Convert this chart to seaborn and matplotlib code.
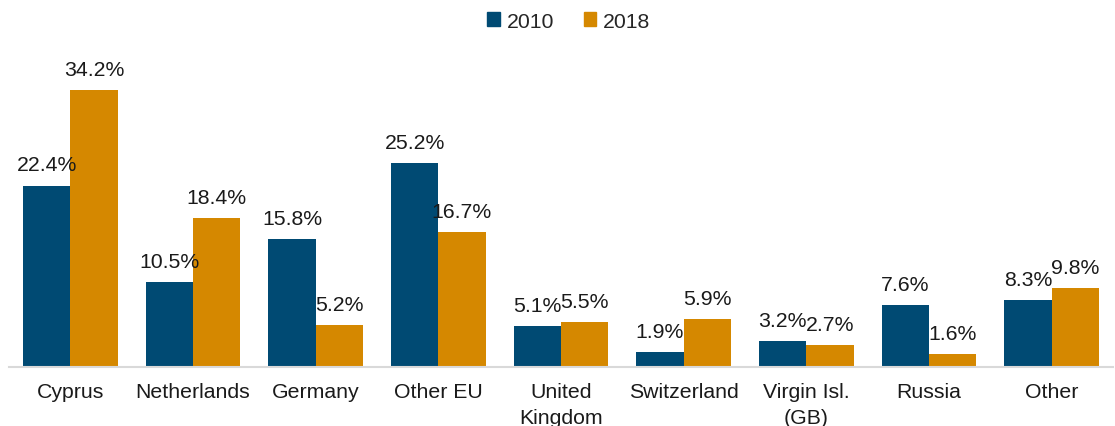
import pandas as pd
import seaborn as sns
import matplotlib.pyplot as plt

countries = ["Cyprus", "Netherlands", "Germany", "Other EU", "United\nKingdom",
             "Switzerland", "Virgin Isl.\n(GB)", "Russia", "Other"]
share_2010 = [22.4, 10.5, 15.8, 25.2, 5.1, 1.9, 3.2, 7.6, 8.3]
share_2018 = [34.2, 18.4, 5.2, 16.7, 5.5, 5.9, 2.7, 1.6, 9.8]

df = pd.DataFrame({
    "country": countries * 2,
    "year": ["2010"] * 9 + ["2018"] * 9,
    "share": share_2010 + share_2018,
})

sns.set_style("white")
plt.rcParams["font.family"] = ["Liberation Sans", "DejaVu Sans"]

fig = plt.figure(figsize=(11.15, 4.27), dpi=100)
ax = fig.add_axes([9 / 1115, 59 / 427, 1104 / 1115, 328 / 427])

sns.barplot(data=df, x="country", y="share", hue="year",
            palette=["#004a73", "#d58800"], saturation=1, width=0.77,
            linewidth=0, ax=ax, legend=False)

for cont in ax.containers:
    ax.bar_label(cont, labels=[f"{v:.1f}%" for v in cont.datavalues],
                 padding=8, fontsize=15.3, color="#1a1a1a")

ax.set_ylim(0, 40.5)
ax.set_xlim(-0.5, 8.5)
ax.set_xlabel("")
ax.set_ylabel("")
ax.set_yticks([])
for s in ["top", "right", "left"]:
    ax.spines[s].set_visible(False)
ax.spines["bottom"].set_color("#d9d9d9")
ax.spines["bottom"].set_linewidth(1.5)
ax.tick_params(axis="x", length=0, pad=11, labelsize=15.3, labelcolor="#1a1a1a")
for lbl in ax.get_xticklabels():
    lbl.set_linespacing(1.45)

handles = [plt.Rectangle((0, 0), 1, 1, color="#004a73"),
           plt.Rectangle((0, 0), 1, 1, color="#d58800")]
fig.legend(handles, ["2010", "2018"], loc="upper center", ncol=2,
           bbox_to_anchor=(0.51, 1.015), frameon=False, fontsize=15.3,
           handlelength=0.6, handleheight=0.6, handletextpad=0.3,
           columnspacing=1.4)

fig.savefig("out.png", dpi=100)
